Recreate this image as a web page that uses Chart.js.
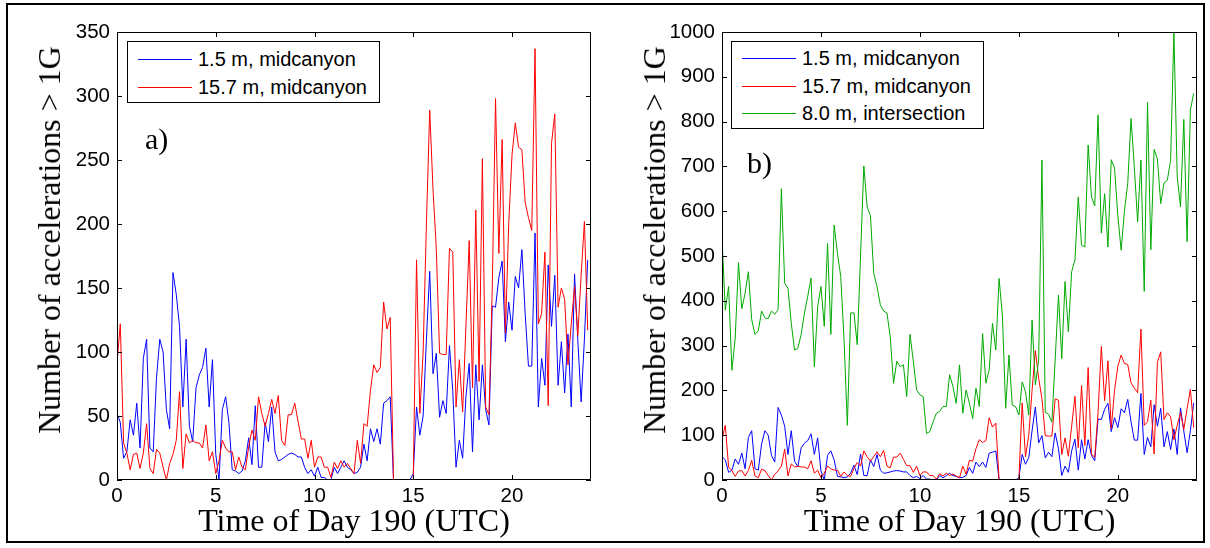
<!DOCTYPE html>
<html>
<head>
<meta charset="utf-8">
<script src="https://cdn.jsdelivr.net/npm/chart.js@4/dist/chart.umd.min.js"></script>
<style>
  body { margin: 0; background: #fff; }
  #wrap { position: relative; width: 1210px; height: 548px; background: #fff; overflow: hidden; }
  #frame { position: absolute; left: 6px; top: 3px; width: 1199px; height: 540px; border: 2px solid #000; box-sizing: border-box; }
  canvas { position: absolute; top: 0; }
  .legend { position: absolute; border: 1px solid #000; background: #fff; box-sizing: border-box;
            font-family: "Liberation Sans", Arial, sans-serif; font-size: 20px; color: #000; }
  .row { position: absolute; left: 0; height: 28px; line-height: 28px; white-space: nowrap; }
  .row .sw { position: absolute; left: 10px; top: 14px; width: 54px; height: 1px; }
  .row .tx { position: absolute; left: 70px; top: 0; }
  .tag { position: absolute; font-family: "Liberation Serif", "Times New Roman", serif; font-size: 30px; line-height: 30px; color: #000; }
  .ytitle { position: absolute; font-family: "Liberation Serif", "Times New Roman", serif; font-size: 32px; line-height: 32px;
            color: #000; white-space: nowrap; transform: translate(-50%, -50%) rotate(-90deg); }
</style>
</head>
<body>
<div id="wrap">
  <div id="frame"></div>
  <canvas id="chartA" width="605" height="548" style="left:0"></canvas>
  <canvas id="chartB" width="605" height="548" style="left:605px"></canvas>

  <div class="ytitle" style="left:49px;top:240px">Number of accelerations &gt; 1G</div>
  <div class="ytitle" style="left:654px;top:240px">Number of accelerations &gt; 1G</div>

  <div class="legend" style="left:127px;top:41px;width:253px;height:62px">
    <div class="row" style="top:3px"><span class="sw" style="background:#0000ff"></span><span class="tx">1.5 m, midcanyon</span></div>
    <div class="row" style="top:31px"><span class="sw" style="background:#ff0000"></span><span class="tx">15.7 m, midcanyon</span></div>
  </div>
  <div class="legend" style="left:731px;top:41px;width:253px;height:88px">
    <div class="row" style="top:2px"><span class="sw" style="background:#0000ff"></span><span class="tx">1.5 m, midcanyon</span></div>
    <div class="row" style="top:30px"><span class="sw" style="background:#ff0000"></span><span class="tx">15.7 m, midcanyon</span></div>
    <div class="row" style="top:57px"><span class="sw" style="background:#00aa00"></span><span class="tx">8.0 m, intersection</span></div>
  </div>
  <div class="tag" style="left:145px;top:124px">a)</div>
  <div class="tag" style="left:747px;top:148px">b)</div>
</div>

<script>
// samples every 10 minutes over day 190 (hours UTC)
const times = [];
for (let i = 0; i < 144; i++) times.push(i / 6);

const xTicks = [0, 5, 10, 15, 20];
const yTicksA = [0, 50, 100, 150, 200, 250, 300, 350];
const yTicksB = [0, 100, 200, 300, 400, 500, 600, 700, 800, 900, 1000];

// 1.5 m, midcanyon
const low = [
  52, 45, 17, 22, 47, 35, 60, 25, 95, 110,
  25, 22, 80, 110, 100, 55, 40, 162, 145, 120,
  57, 110, 42, 30, 72, 82, 88, 103, 57, 94,
  20, 0, 55, 65, 45, 8, 7, 5, 7, 15,
  33, 12, 58, 10, 10, 45, 30, 57, 22, 15,
  16, 18, 20, 21, 20, 18, 18, 10, 5, 8,
  3, 10, 2, 2, 0, 0, 10, 5, 10, 15,
  10, 8, 5, 6, 10, 28, 15, 40, 30, 40,
  28, 60, 62, 65, 0, 0, 0, 0, 0, 0,
  5, 57, 35, 50, 110, 163, 83, 99, 49, 62,
  52, 105, 70, 10, 31, 17, 65, 91, 22, 90,
  47, 90, 55, 43, 136, 135, 158, 171, 108, 139,
  117, 159, 150, 180, 130, 89, 89, 193, 57, 95,
  74, 168, 120, 160, 74, 108, 68, 114, 57, 161,
  109, 61, 110, 172
];

// 15.7 m, midcanyon
const high = [
  91, 122, 29, 21, 8, 20, 21, 9, 21, 44,
  9, 5, 24, 21, 10, 0, 13, 20, 31, 69,
  9, 36, 29, 31, 29, 29, 25, 43, 15, 22,
  5, 15, 31, 25, 22, 22, 8, 18, 10, 8,
  26, 39, 31, 65, 52, 42, 52, 63, 52, 66,
  31, 27, 51, 51, 60, 46, 32, 32, 17, 31,
  10, 18, 18, 10, 10, 2, 14, 9, 15, 10,
  13, 9, 5, 31, 13, 44, 42, 70, 90, 84,
  88, 139, 118, 127, 0, 0, 0, 0, 0, 0,
  0, 172, 52, 100, 200, 289, 227, 181, 99, 98,
  98, 181, 178, 57, 94, 53, 120, 187, 72, 211,
  77, 251, 57, 51, 150, 298, 177, 266, 115, 200,
  254, 279, 260, 258, 217, 205, 195, 337, 122, 130,
  178, 58, 263, 286, 135, 150, 141, 90, 122, 151,
  113, 160, 202, 117
];

// 8.0 m, intersection
const inter = [
  540, 379, 432, 245, 316, 485, 382, 417, 465, 358,
  325, 333, 377, 362, 360, 377, 370, 380, 650, 439,
  428, 350, 290, 294, 325, 373, 410, 451, 253, 387,
  432, 343, 528, 325, 569, 506, 454, 313, 122, 373,
  373, 302, 500, 701, 610, 590, 461, 432, 391, 377,
  373, 320, 216, 265, 253, 257, 186, 325, 265, 201,
  190, 186, 104, 108, 130, 149, 153, 164, 164, 235,
  209, 171, 257, 149, 201, 171, 137, 205, 164, 327,
  216, 246, 350, 290, 450, 368, 160, 279, 167, 164,
  145, 219, 197, 145, 357, 212, 268, 714, 151, 147,
  129, 268, 413, 271, 443, 331, 465, 491, 632, 524,
  520, 748, 632, 612, 815, 551, 639, 520, 715, 696,
  590, 513, 600, 662, 807, 699, 576, 714, 421, 843,
  514, 738, 717, 617, 663, 669, 714, 1000, 677, 610,
  805, 532, 826, 863
];

const tickFont = { family: '"Liberation Sans", Arial, sans-serif', size: 20.5 };
const titleFont = { family: '"Liberation Serif", "Times New Roman", serif', size: 32 };

function pairs(values) {
    return values.map((v, i) => ({ x: times[i], y: v }));
}

function series(values, color, order) {
    return {
        data: pairs(values),
        borderColor: color,
        borderWidth: 1,
        pointRadius: 0,
        tension: 0,
        fill: false,
        order: order
    };
}

// MATLAB style box with inward ticks on all four sides
const boxTicks = {
    id: 'boxTicks',
    afterDraw(chart) {
        const { ctx, chartArea: a, scales: { x, y } } = chart;
        const len = 5;
        ctx.save();
        ctx.strokeStyle = '#000';
        ctx.lineWidth = 1;
        ctx.beginPath();
        ctx.rect(Math.round(a.left) + 0.5, Math.round(a.top) + 0.5,
                 Math.round(a.width) - 1, Math.round(a.height) - 1);
        x.ticks.forEach(t => {
            const px = Math.round(x.getPixelForValue(t.value)) + 0.5;
            ctx.moveTo(px, a.bottom); ctx.lineTo(px, a.bottom - len);
            ctx.moveTo(px, a.top); ctx.lineTo(px, a.top + len);
        });
        y.ticks.forEach(t => {
            const py = Math.round(y.getPixelForValue(t.value)) + 0.5;
            ctx.moveTo(a.left, py); ctx.lineTo(a.left + len, py);
            ctx.moveTo(a.right, py); ctx.lineTo(a.right - len, py);
        });
        ctx.stroke();
        ctx.restore();
    }
};

function makeChart(id, datasets, yMax, yTicks, rightPad) {
    return new Chart(document.getElementById(id), {
        type: 'line',
        data: { datasets: datasets },
        options: {
            responsive: false,
            animation: false,
            layout: { padding: { top: 32, right: rightPad, left: 0, bottom: 0 } },
            plugins: { legend: { display: false }, tooltip: { enabled: false } },
            scales: {
                x: {
                    type: 'linear',
                    min: 0,
                    max: 24,
                    afterBuildTicks: s => { s.ticks = xTicks.map(v => ({ value: v })); },
                    afterFit: s => { s.height = 68; },
                    grid: { display: false, drawTicks: false },
                    border: { display: false },
                    ticks: { color: '#000', font: tickFont, padding: 4, maxRotation: 0,
                             callback: v => String(v) },
                    title: { display: true, text: 'Time of Day 190 (UTC)', color: '#000',
                             font: titleFont, padding: { top: 0, bottom: 6 } }
                },
                y: {
                    min: 0,
                    max: yMax,
                    afterBuildTicks: s => { s.ticks = yTicks.map(v => ({ value: v })); },
                    afterFit: s => { s.width = 117; },
                    grid: { display: false, drawTicks: false },
                    border: { display: false },
                    ticks: { color: '#000', font: tickFont, padding: 7, callback: v => String(v) },
                    title: { display: false }
                }
            }
        },
        plugins: [boxTicks]
    });
}

makeChart('chartA', [
    series(low, '#0000ff', 2),
    series(high, '#ff0000', 1)
], 350, yTicksA, 14);

makeChart('chartB', [
    series(low, '#0000ff', 3),
    series(high, '#ff0000', 2),
    series(inter, '#00aa00', 1)
], 1000, yTicksB, 13);
</script>
</body>
</html>
